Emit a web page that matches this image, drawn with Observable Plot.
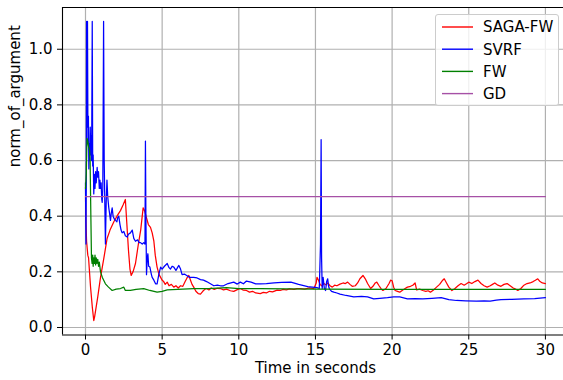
<!DOCTYPE html>
<html>
<head>
<meta charset="utf-8">
<script src="https://cdn.jsdelivr.net/npm/d3@7"></script>
<script src="https://cdn.jsdelivr.net/npm/@observablehq/plot@0.6"></script>
<style>
  html, body { margin: 0; padding: 0; background: white; }
  #wrap { position: relative; width: 563px; height: 380px; font-family: "DejaVu Sans", sans-serif; }
  #legend { position: absolute; left: 435px; top: 14px; width: 124px; height: 92px;
    border: 1px solid #cccccc; border-radius: 3px; background: rgba(255,255,255,0.8); box-sizing: border-box; }
  #legend svg { position: absolute; left: 0; top: 0; }
</style>
</head>
<body>
<div id="wrap"></div>
<script>
const seriesNames = ["SAGA-FW", "SVRF", "FW", "GD"];
const seriesColors = ["#ff0000", "#0000ff", "#008000", "#a650a6"];
const xTicks = [0, 5, 10, 15, 20, 25, 30];
const yTicks = [0.0, 0.2, 0.4, 0.6, 0.8, 1.0];
const xLabel = "Time in seconds";
const yLabel = "norm_of_argument";

const sagaFW = [
[0,0.47],[0.03,0.38],[0.07,0.31],[0.15,0.26],[0.2,0.25],[0.33,0.145],[0.45,0.07],[0.54,0.025],[0.6,0.04],[0.8,0.11],[0.98,0.18],[1.2,0.25],[1.41,0.32],[1.6,0.35],[1.85,0.38],[2.05,0.40],[2.28,0.42],[2.45,0.44],[2.6,0.46],[2.7,0.37],[2.8,0.28],[2.9,0.21],[2.98,0.187],[3.1,0.2],[3.26,0.23],[3.45,0.30],[3.6,0.35],[3.76,0.43],[3.85,0.42],[3.9,0.41],[4.0,0.39],[4.1,0.37],[4.24,0.36],[4.35,0.34],[4.46,0.31],[4.55,0.26],[4.67,0.217],[4.8,0.19],[4.9,0.18],[5.0,0.17],[5.1,0.165],[5.2,0.155],[5.33,0.163],[5.45,0.15],[5.6,0.155],[5.76,0.145],[5.9,0.15],[6.05,0.142],[6.2,0.15],[6.35,0.148],[6.5,0.165],[6.62,0.178],[6.74,0.187],[6.85,0.17],[6.95,0.155],[7.06,0.145],[7.2,0.13],[7.35,0.122],[7.5,0.12],[7.65,0.13],[7.8,0.138],[7.9,0.14],[8.05,0.135],[8.2,0.142],[8.4,0.137],[8.6,0.141],[8.8,0.14],[9.0,0.135],[9.2,0.138],[9.45,0.132],[9.67,0.13],[9.9,0.136],[10.1,0.14],[10.3,0.134],[10.5,0.133],[10.7,0.127],[10.9,0.13],[11.1,0.124],[11.4,0.122],[11.6,0.126],[11.8,0.124],[12.0,0.13],[12.2,0.128],[12.5,0.134],[12.7,0.133],[12.9,0.137],[13.1,0.135],[13.3,0.139],[13.6,0.137],[13.8,0.14],[14.0,0.14],[14.3,0.138],[14.6,0.142],[14.9,0.14],[15.05,0.16],[15.1,0.18],[15.2,0.17],[15.3,0.155],[15.4,0.15],[15.55,0.158],[15.7,0.153],[15.8,0.16],[15.95,0.15],[16.1,0.145],[16.25,0.152],[16.4,0.15],[16.6,0.156],[16.8,0.16],[16.95,0.158],[17.1,0.163],[17.25,0.155],[17.4,0.148],[17.6,0.15],[17.75,0.16],[17.9,0.175],[18.1,0.187],[18.25,0.175],[18.4,0.158],[18.6,0.14],[18.75,0.148],[18.9,0.16],[19.0,0.163],[19.15,0.15],[19.3,0.138],[19.4,0.133],[19.6,0.14],[19.8,0.158],[19.9,0.17],[20.0,0.168],[20.1,0.145],[20.2,0.133],[20.35,0.13],[20.5,0.127],[20.7,0.135],[20.85,0.14],[21.0,0.145],[21.2,0.148],[21.35,0.152],[21.5,0.16],[21.6,0.135],[21.8,0.138],[22.0,0.133],[22.2,0.13],[22.35,0.132],[22.5,0.127],[22.7,0.135],[22.9,0.145],[23.1,0.155],[23.3,0.17],[23.4,0.175],[23.55,0.16],[23.7,0.145],[23.9,0.133],[24.1,0.14],[24.3,0.15],[24.5,0.158],[24.7,0.152],[24.85,0.157],[25.0,0.163],[25.2,0.158],[25.4,0.165],[25.6,0.17],[25.8,0.158],[26.0,0.15],[26.2,0.145],[26.4,0.15],[26.55,0.155],[26.7,0.16],[26.9,0.152],[27.1,0.148],[27.3,0.155],[27.5,0.158],[27.7,0.15],[27.9,0.142],[28.05,0.138],[28.2,0.133],[28.4,0.14],[28.6,0.152],[28.8,0.158],[29.0,0.16],[29.2,0.165],[29.35,0.17],[29.5,0.175],[29.65,0.165],[29.8,0.16],[30.0,0.158]
];

const svrf = [
[0,0.52],[0.03,0.30],[0.05,0.5],[0.07,1.1],[0.09,0.72],[0.11,0.8],[0.13,1.1],[0.16,0.68],[0.19,0.76],[0.22,0.57],[0.25,0.66],[0.28,0.6],[0.31,0.72],[0.34,0.62],[0.37,0.69],[0.4,0.6],[0.44,1.1],[0.47,0.58],[0.5,0.62],[0.54,0.48],[0.58,0.55],[0.62,0.5],[0.66,0.56],[0.7,0.52],[0.76,0.575],[0.8,0.54],[0.85,0.56],[0.9,0.5],[0.94,0.53],[0.98,0.5],[1.02,0.52],[1.06,0.46],[1.09,0.45],[1.13,0.5],[1.18,1.1],[1.22,0.6],[1.26,0.45],[1.3,0.30],[1.35,0.45],[1.4,0.53],[1.45,0.47],[1.52,0.43],[1.57,0.41],[1.63,0.385],[1.68,0.41],[1.74,0.43],[1.8,0.4],[1.88,0.39],[1.96,0.385],[2.05,0.38],[2.1,0.395],[2.17,0.40],[2.25,0.37],[2.32,0.35],[2.39,0.34],[2.5,0.345],[2.6,0.33],[2.72,0.325],[2.8,0.335],[2.93,0.34],[3.05,0.35],[3.15,0.32],[3.26,0.31],[3.4,0.315],[3.5,0.305],[3.59,0.305],[3.7,0.3],[3.8,0.305],[3.88,0.3],[3.91,0.67],[3.94,0.4],[3.98,0.19],[4.03,0.25],[4.07,0.265],[4.12,0.22],[4.2,0.217],[4.3,0.19],[4.35,0.18],[4.46,0.17],[4.57,0.157],[4.67,0.157],[4.78,0.19],[4.9,0.217],[5.0,0.21],[5.15,0.22],[5.33,0.23],[5.45,0.215],[5.54,0.21],[5.65,0.22],[5.76,0.217],[5.9,0.205],[6.0,0.215],[6.09,0.223],[6.2,0.21],[6.3,0.19],[6.45,0.192],[6.6,0.187],[6.8,0.18],[7.06,0.18],[7.28,0.178],[7.5,0.172],[7.7,0.17],[7.9,0.165],[8.15,0.157],[8.37,0.15],[8.6,0.152],[8.8,0.15],[9.0,0.15],[9.3,0.158],[9.67,0.163],[9.9,0.156],[10.1,0.163],[10.3,0.157],[10.5,0.167],[10.8,0.163],[11.1,0.157],[11.4,0.157],[11.8,0.158],[12.3,0.16],[12.8,0.162],[13.4,0.163],[13.9,0.155],[14.5,0.147],[15.1,0.143],[15.25,0.14],[15.33,0.3],[15.37,0.675],[15.4,0.25],[15.44,0.14],[15.5,0.18],[15.58,0.14],[15.66,0.133],[15.73,0.165],[15.8,0.175],[15.85,0.15],[15.9,0.14],[16.05,0.13],[16.2,0.127],[16.4,0.124],[16.6,0.12],[17.0,0.115],[17.5,0.11],[18.0,0.112],[18.4,0.11],[18.8,0.103],[19.2,0.105],[19.7,0.107],[20.1,0.11],[20.5,0.11],[21.0,0.103],[21.5,0.104],[22.0,0.103],[22.6,0.105],[23.2,0.107],[23.7,0.1],[24.2,0.097],[24.8,0.096],[25.5,0.095],[26.0,0.096],[26.4,0.095],[26.8,0.098],[27.1,0.1],[27.8,0.101],[28.6,0.103],[29.3,0.104],[30.0,0.107]
];

const fw = [
[0,0.5],[0.05,0.55],[0.1,0.68],[0.15,0.67],[0.2,0.65],[0.26,0.64],[0.3,0.6],[0.35,0.4],[0.39,0.25],[0.43,0.23],[0.47,0.26],[0.5,0.22],[0.54,0.25],[0.58,0.23],[0.62,0.26],[0.66,0.225],[0.7,0.25],[0.75,0.23],[0.8,0.245],[0.85,0.22],[0.9,0.235],[0.98,0.2],[1.1,0.18],[1.3,0.157],[1.5,0.145],[1.74,0.133],[2.0,0.138],[2.28,0.14],[2.5,0.145],[2.6,0.133],[2.93,0.133],[3.3,0.137],[3.8,0.14],[4.2,0.133],[4.67,0.127],[5.0,0.13],[5.33,0.135],[6.0,0.137],[7.06,0.14],[8.0,0.14],[9.2,0.143],[10,0.14],[11.4,0.14],[13,0.139],[15,0.138],[20,0.137],[25,0.137],[30,0.137]
];

const gd = [[0,0.47],[30,0.47]];

const allSeries = [sagaFW, svrf, fw, gd];
const xDomain = [-1.5, 31.18];
const yDomain = [-0.027, 1.150];

const lineMarks = allSeries.map((s, i) =>
  Plot.line(s, {x: d => d[0], y: d => d[1], stroke: seriesColors[i], strokeWidth: 1.25, clip: true})
);

const chart = Plot.plot({
  width: 563,
  height: 380,
  marginLeft: 62,
  marginRight: 0,
  marginTop: 7,
  marginBottom: 45.5,
  style: {fontFamily: "DejaVu Sans", fontSize: "15px", color: "black", background: "white", overflow: "visible"},
  x: {domain: xDomain},
  y: {domain: yDomain},
  marks: [
    Plot.gridX(xTicks, {stroke: "#b0b0b0", strokeOpacity: 1, strokeWidth: 1.2}),
    Plot.gridY(yTicks, {stroke: "#b0b0b0", strokeOpacity: 1, strokeWidth: 1.2}),
    ...lineMarks,
    Plot.ruleX([xDomain[0]], {stroke: "black", strokeWidth: 1.1}),
    Plot.ruleY([yDomain[0], yDomain[1]], {stroke: "black", strokeWidth: 1.1}),
    Plot.axisX(xTicks, {tickSize: 5, tickPadding: 4, tickFormat: d => String(d), label: null, stroke: "black"}),
    Plot.axisY(yTicks, {tickSize: 5, tickPadding: 5, tickFormat: d3.format(".1f"), label: null, stroke: "black"}),
    Plot.text([xLabel], {text: d => d, frameAnchor: "bottom", dy: 38, dx: 2.5, fontSize: 15, fill: "black"}),
    Plot.text([yLabel], {text: d => d, frameAnchor: "left", rotate: -90, dx: -47, dy: -4, fontSize: 15, fill: "black"})
  ]
});

const wrap = document.getElementById("wrap");
wrap.appendChild(chart);

const legend = d3.select(wrap).append("div").attr("id", "legend");
const lsvg = legend.append("svg").attr("width", 122).attr("height", 90);
seriesNames.forEach((name, i) => {
  const cy = 12 + i * 22.2;
  lsvg.append("line")
    .attr("x1", 6).attr("x2", 37).attr("y1", cy).attr("y2", cy)
    .attr("stroke", seriesColors[i]).attr("stroke-width", 1.4);
  lsvg.append("text")
    .attr("x", 47).attr("y", cy).attr("dy", "0.36em")
    .attr("font-family", "DejaVu Sans").attr("font-size", 15).attr("fill", "#000")
    .text(name);
});
</script>
</body>
</html>
